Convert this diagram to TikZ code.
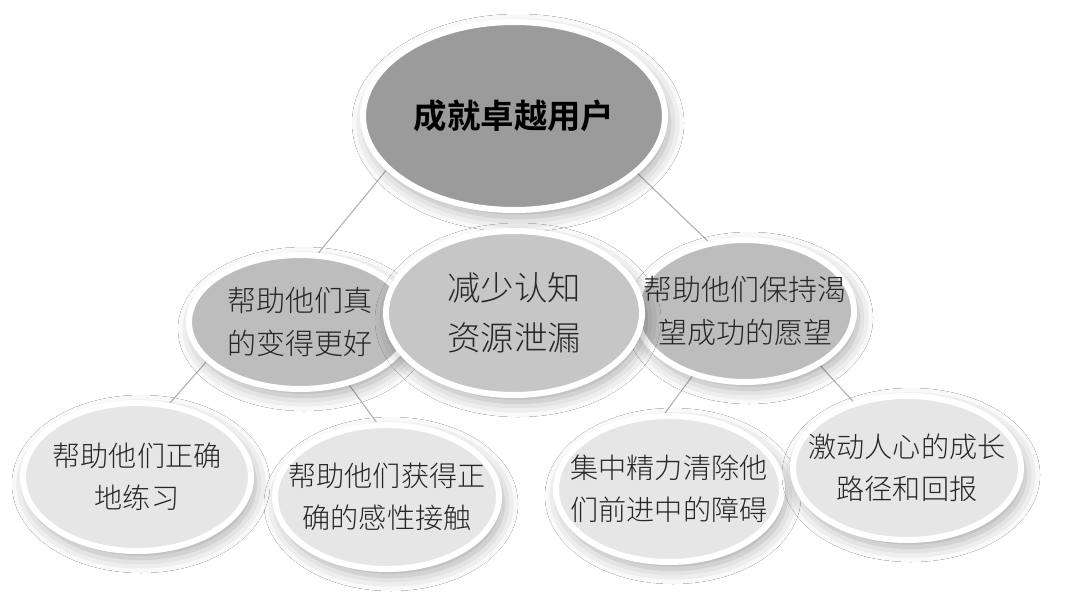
\documentclass[tikz,border=0pt]{standalone}
\usepackage{fontspec}
\IfFontExistsTF{Noto Sans CJK SC Light}
  {\newfontfamily\cjk{Noto Sans CJK SC Light}[BoldFont={Noto Sans CJK SC Bold}]}
  {\newfontfamily\cjk{Noto Sans CJK SC}}
\usetikzlibrary{shapes.geometric,shadows.blur,backgrounds}
\definecolor{topgray}{HTML}{9B9B9B}
\definecolor{midgray}{HTML}{BDBDBD}
\definecolor{coregray}{HTML}{C6C6C6}
\definecolor{lowgray}{HTML}{E6E6E6}
\definecolor{linkgray}{HTML}{AFAFAF}
\tikzset{
  bubble/.style={ellipse, draw=white, line width=1.2mm, inner sep=-8mm, align=center, text=black!85,
    blur shadow={shadow xshift=0.8mm, shadow yshift=-1.4mm, shadow blur radius=3mm, shadow opacity=35}},
  topbubble/.style={bubble, fill=topgray, text=black, font=\cjk\bfseries\fontsize{19pt}{28pt}\selectfont},
  corebubble/.style={bubble, fill=coregray, font=\cjk\fontsize{19pt}{28.5pt}\selectfont},
  midbubble/.style={bubble, fill=midgray, font=\cjk\fontsize{16.5pt}{24.5pt}\selectfont},
  lowbubble/.style={bubble, fill=lowgray, font=\cjk\fontsize{16pt}{24pt}\selectfont},
  link/.style={draw=linkgray, line width=0.6pt}
}
\begin{document}
\begin{tikzpicture}
	\useasboundingbox (0,0) rectangle (21.6,-12.06);
	% 顶层
	\node[topbubble, minimum width=6.04cm, minimum height=3.76cm] (top) at (10.28,-2.32) {成就卓越用户};
	% 中间一层
	\node[midbubble, minimum width=4.44cm, minimum height=2.68cm] (lmid) at (6.00,-6.44) {帮助他们真\\的变得更好};
	\node[midbubble, minimum width=4.36cm, minimum height=2.84cm] (rmid) at (14.90,-6.22) {帮助他们保持渴\\望成功的愿望};
	\node[corebubble, minimum width=5.12cm, minimum height=3.28cm] (core) at (10.28,-6.26) {减少认知\\资源泄漏};
	% 底层
	\node[lowbubble, minimum width=4.56cm, minimum height=2.96cm] (ll) at (2.74,-9.54) {帮助他们正确\\地练习};
	\node[lowbubble, minimum width=4.48cm, minimum height=2.88cm] (lr) at (7.74,-9.94) {帮助他们获得正\\确的感性接触};
	\node[lowbubble, minimum width=4.52cm, minimum height=2.92cm] (rl) at (13.38,-9.78) {集中精力清除他\\们前进中的障碍};
	\node[lowbubble, minimum width=4.56cm, minimum height=2.88cm] (rr) at (18.14,-9.36) {激动人心的成长\\路径和回报};
	% 连线
	\begin{scope}[on background layer]
		\fill[white] (0,0) rectangle (21.6,-12.06);
		\draw[link] (top.203) -- (lmid.75);
		\draw[link] (top.335) -- (rmid.118);
		\draw[link] (lmid.203) -- (ll.66);
		\draw[link] (lmid.308) -- (lr.98);
		\draw[link] (rmid.231) -- (rl.93);
		\draw[link] (rmid.324) -- (rr.129);
	\end{scope}
\end{tikzpicture}
\end{document}
